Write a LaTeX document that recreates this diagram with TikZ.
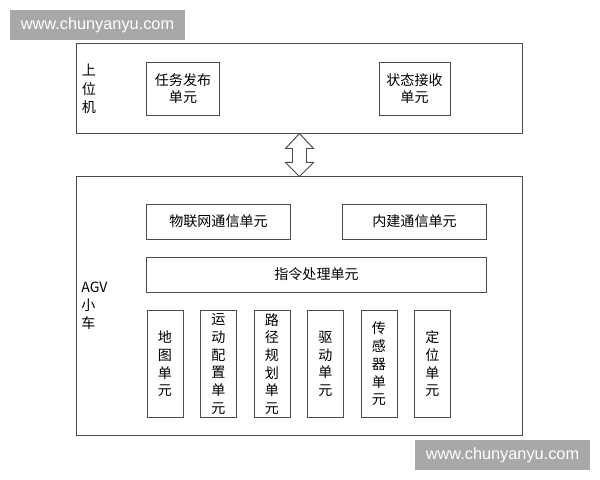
\documentclass[tikz,border=0pt]{standalone}
\usepackage{fontspec}
\setmainfont{Liberation Sans}
\newfontfamily\cjk{Noto Sans CJK SC}
\usetikzlibrary{calc}

\begin{document}
\begin{tikzpicture}[x=0.025cm,y=-0.025cm,
  line width=0.7pt,
  box/.style={draw=black!70,inner sep=0pt,font=\cjk\fontsize{10}{12.5}\selectfont,align=center},
  lbl/.style={inner sep=0pt,font=\cjk\fontsize{10}{13}\selectfont,align=left},
  wmark/.style={fill=black!34,text=white,inner sep=0pt,minimum width=4.375cm,minimum height=0.75cm,font=\fontsize{11.6}{14}\selectfont}]
\useasboundingbox (0,0) rectangle (600,480);
% watermarks
\node[wmark] (wm1) at (97.5,25) {www.chunyanyu.com};
\node[wmark] (wm2) at (502.5,455) {www.chunyanyu.com};
% upper computer
\node[box,minimum width=11.125cm,minimum height=2.225cm] (up) at (299.5,88.5) {};
\node[lbl] (uplbl) at (89,89) {上\\位\\机};
\node[box,minimum width=1.8cm,minimum height=1.325cm] (task) at (183,88.5) {任务发布\\单元};
\node[box,minimum width=1.775cm,minimum height=1.325cm] (state) at (414.5,88.5) {状态接收\\单元};
% AGV
\node[box,minimum width=11.125cm,minimum height=6.45cm] (agv) at (299.5,306) {};
\node[lbl,anchor=west] (agvlbl) at (81,306) {AGV\\小\\车};
\node[box,minimum width=3.575cm,minimum height=0.875cm] (iot) at (218.5,221.5) {物联网通信单元};
\node[box,minimum width=3.575cm,minimum height=0.875cm] (inner) at (414.5,221.5) {内建通信单元};
\node[box,minimum width=8.475cm,minimum height=0.875cm] (cmd) at (316.5,274.5) {指令处理单元};
\foreach \t [count=\i] in {地\\图\\单\\元,运\\动\\配\\置\\单\\元,路\\径\\规\\划\\单\\元,驱\\动\\单\\元,传\\感\\器\\单\\元,定\\位\\单\\元}
  \node[box,minimum width=0.9cm,minimum height=2.65cm,font=\cjk\fontsize{10}{12.6}\selectfont] (u\i) at ({165+53.5*(\i-1)},364) {\t};
% double arrow
\draw[black!70,fill=white] (up.south) -- ($(up.south)+(-14,15)$) -- ($(up.south)+(-7,15)$)
  -- ($(agv.north)+(-7,-14)$) -- ($(agv.north)+(-14,-14)$) -- (agv.north)
  -- ($(agv.north)+(14,-14)$) -- ($(agv.north)+(7,-14)$)
  -- ($(up.south)+(7,15)$) -- ($(up.south)+(14,15)$) -- cycle;
\end{tikzpicture}
\end{document}
